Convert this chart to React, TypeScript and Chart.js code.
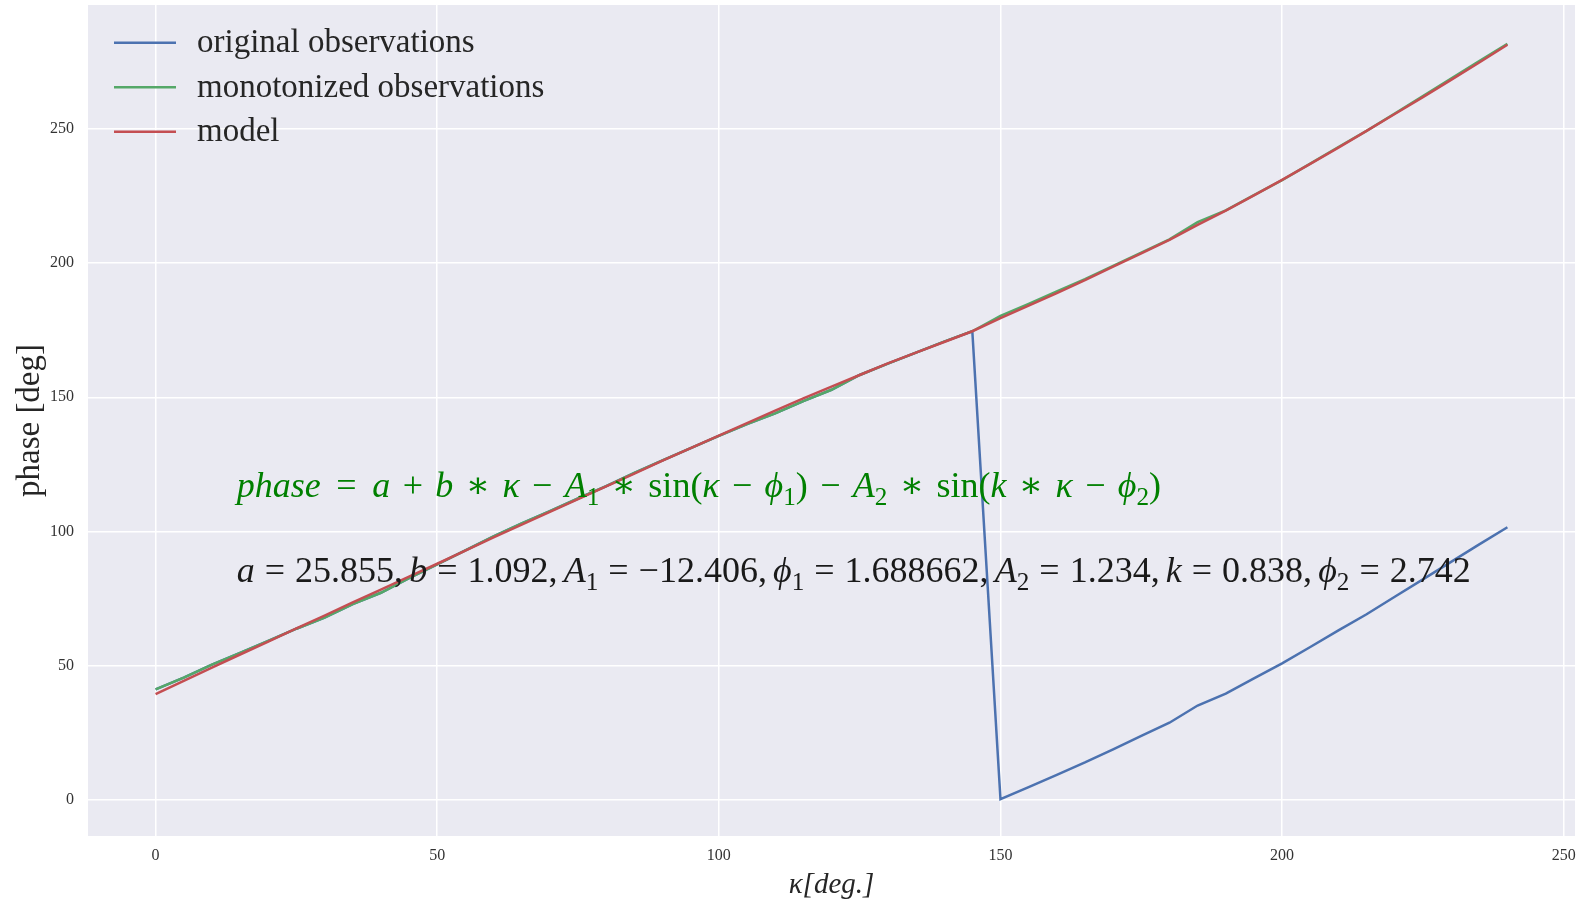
import React, { useEffect, useRef } from "react";
import { Chart, registerables } from "chart.js";

Chart.register(...registerables);

// Rotation angle κ in degrees, sampled every 5°
const KAPPA = [
  0, 5, 10, 15, 20, 25, 30, 35, 40, 45, 50, 55, 60, 65, 70, 75, 80, 85, 90, 95,
  100, 105, 110, 115, 120, 125, 130, 135, 140, 145, 150, 155, 160, 165, 170, 175,
  180, 185, 190, 195, 200, 205, 210, 215, 220, 225, 230, 235, 240,
];

// Measured phase, wrapped into [0, 180)
const ORIGINAL = [
  41.2, 45.6, 50.4, 54.8, 59.3, 63.8, 67.9, 73.0, 77.2, 82.6, 87.8, 93.0, 98.2,
  103.0, 107.6, 112.3, 116.9, 121.8, 126.5, 131.1, 135.6, 140.0, 144.0, 148.6,
  152.8, 158.3, 162.5, 166.6, 170.7, 174.6, 0.3, 4.8, 9.4, 14.0, 18.9, 23.9,
  28.8, 35.2, 39.6, 45.3, 50.9, 57.0, 63.2, 69.2, 75.7, 82.2, 88.7, 95.2, 101.6,
];

// Same observations after unwrapping the jump at 150°
const MONOTONIZED = [
  41.2, 45.6, 50.4, 54.8, 59.3, 63.8, 67.9, 73.0, 77.2, 82.6, 87.8, 93.0, 98.2,
  103.0, 107.6, 112.3, 116.9, 121.8, 126.5, 131.1, 135.6, 140.0, 144.0, 148.6,
  152.8, 158.3, 162.5, 166.6, 170.7, 174.6, 180.3, 184.8, 189.4, 194.0, 198.9,
  203.9, 208.8, 215.2, 219.6, 225.3, 230.9, 237.0, 243.2, 249.2, 255.7, 262.2,
  268.7, 275.2, 281.6,
];

// Fitted model curve
const MODEL = [
  39.4, 44.4, 49.3, 54.2, 59.0, 63.9, 68.7, 73.6, 78.4, 83.2, 88.0, 92.9, 97.8,
  102.6, 107.3, 112.1, 116.8, 121.6, 126.4, 131.1, 135.7, 140.4, 145.0, 149.6,
  154.0, 158.3, 162.6, 166.6, 170.6, 174.6, 179.5, 184.1, 188.8, 193.6, 198.7,
  203.6, 208.6, 214.2, 219.5, 225.2, 231.0, 236.9, 243.0, 249.2, 255.5, 261.8,
  268.2, 274.7, 281.3,
];

const SERIES_LABELS = ["original observations", "monotonized observations", "model"];
const SERIES_COLORS = ["#4C72B0", "#55A868", "#C44E52"];

const X_TICKS = [0, 50, 100, 150, 200, 250];
const Y_TICKS = [0, 50, 100, 150, 200, 250];

// Fit parameters shown under the formula
const PARAM_SYMBOLS = [
  ["a", ""],
  ["b", ""],
  ["A", "1"],
  ["ϕ", "1"],
  ["A", "2"],
  ["k", ""],
  ["ϕ", "2"],
];
const PARAM_VALUES = ["25.855", "1.092", "−12.406", "1.688662", "1.234", "0.838", "2.742"];

const SERIF = '"Liberation Serif", "DejaVu Serif", serif';
const MATH_SIZE = 36;

type Tok = { t: string; it?: boolean; sub?: boolean; l?: number; r?: number };

const v = (t: string): Tok => ({ t, it: true });
const u = (t: string): Tok => ({ t });
const s = (t: string): Tok => ({ t, sub: true });
const bin = (t: string): Tok => ({ t, l: 0.22, r: 0.22 });
const rel = (t: string): Tok => ({ t, l: 0.28, r: 0.28 });

const FORMULA: Tok[] = [
  v("phase"), rel("="), v("a"), bin("+"), v("b"), bin("∗"), v("κ"), bin("−"),
  v("A"), s("1"), bin("∗"), u("sin"), u("("), v("κ"), bin("−"), v("ϕ"), s("1"), u(")"),
  bin("−"), v("A"), s("2"), bin("∗"), u("sin"), u("("), v("k"), bin("∗"), v("κ"),
  bin("−"), v("ϕ"), s("2"), u(")"),
];

function paramTokens(): Tok[] {
  const out: Tok[] = [];
  PARAM_SYMBOLS.forEach(([sym, sub], i) => {
    out.push(v(sym));
    if (sub) out.push(s(sub));
    out.push(rel("="));
    out.push(u(PARAM_VALUES[i]));
    if (i < PARAM_SYMBOLS.length - 1) out.push({ t: ",", r: 0.17 });
  });
  return out;
}

function tokFont(tk: Tok, size: number) {
  const px = tk.sub ? size * 0.7 : size;
  return `${tk.it ? "italic " : ""}${px}px ${SERIF}`;
}

// Lays out a run of math tokens from x to x + width, stretching operator spacing
function drawMath(
  ctx: CanvasRenderingContext2D,
  toks: Tok[],
  x: number,
  y: number,
  width: number,
  size: number,
  color: string
) {
  const widths = toks.map((tk) => {
    ctx.font = tokFont(tk, size);
    return ctx.measureText(tk.t).width;
  });
  const glyph = widths.reduce((a, b) => a + b, 0);
  const gapEm = toks.reduce((a, tk) => a + (tk.l || 0) + (tk.r || 0), 0);
  const k = gapEm > 0 ? Math.max(0.3, (width - glyph) / (gapEm * size)) : 1;
  ctx.fillStyle = color;
  ctx.textAlign = "left";
  ctx.textBaseline = "alphabetic";
  let cx = x;
  toks.forEach((tk, i) => {
    cx += (tk.l || 0) * size * k;
    ctx.font = tokFont(tk, size);
    ctx.fillText(tk.t, cx, y + (tk.sub ? size * 0.22 : 0));
    cx += widths[i] + (tk.r || 0) * size * k;
  });
}

// Annotation anchors in data units (κ, phase)
const NOTE_KAPPA = 14.4;
const FORMULA_PHASE = 112.7;
const FORMULA_END_KAPPA = 178.5;
const PARAMS_PHASE = 81.1;
const PARAMS_END_KAPPA = 233.5;

const backgroundPlugin = {
  id: "plotBackground",
  beforeDraw(chart: any) {
    const { ctx, chartArea } = chart;
    ctx.save();
    ctx.fillStyle = "#EAEAF2";
    ctx.fillRect(chartArea.left, chartArea.top, chartArea.right - chartArea.left, chartArea.bottom - chartArea.top);
    ctx.restore();
  },
};

const overlayPlugin = {
  id: "overlay",
  afterDatasetsDraw(chart: any) {
    const { ctx, chartArea, scales } = chart;
    ctx.save();

    // legend, upper left
    chart.data.datasets.forEach((ds: any, i: number) => {
      const y = chartArea.top + 37.7 + i * 44.5;
      ctx.strokeStyle = ds.borderColor;
      ctx.lineWidth = ds.borderWidth;
      ctx.beginPath();
      ctx.moveTo(chartArea.left + 26, y);
      ctx.lineTo(chartArea.left + 88, y);
      ctx.stroke();
      ctx.fillStyle = "#262626";
      ctx.font = `33px ${SERIF}`;
      ctx.textAlign = "left";
      ctx.textBaseline = "alphabetic";
      ctx.fillText(ds.label, chartArea.left + 109, y + 9.5);
    });

    // model formula and fitted parameters
    const x0 = scales.x.getPixelForValue(NOTE_KAPPA);
    drawMath(
      ctx,
      FORMULA,
      x0,
      scales.y.getPixelForValue(FORMULA_PHASE),
      scales.x.getPixelForValue(FORMULA_END_KAPPA) - x0,
      MATH_SIZE,
      "#008000"
    );
    drawMath(
      ctx,
      paramTokens(),
      x0,
      scales.y.getPixelForValue(PARAMS_PHASE),
      scales.x.getPixelForValue(PARAMS_END_KAPPA) - x0,
      MATH_SIZE,
      "#1a1a1a"
    );
    ctx.restore();
  },
};

export default function App() {
  const canvasRef = useRef<HTMLCanvasElement | null>(null);

  useEffect(() => {
    if (!canvasRef.current) return;
    const series = [ORIGINAL, MONOTONIZED, MODEL];
    const chart = new Chart(canvasRef.current, {
      type: "line",
      data: {
        datasets: series.map((vals, i) => ({
          label: SERIES_LABELS[i],
          data: KAPPA.map((k, j) => ({ x: k, y: vals[j] })),
          borderColor: SERIES_COLORS[i],
          backgroundColor: SERIES_COLORS[i],
          borderWidth: 2.5,
          pointRadius: 0,
          tension: 0,
          fill: false,
          order: 2 - i,
        })),
      },
      options: {
        responsive: false,
        animation: false,
        events: [],
        layout: { padding: { left: 0, right: 10, top: 5, bottom: 0 } },
        plugins: {
          legend: { display: false },
          tooltip: { enabled: false },
          title: { display: false },
        },
        scales: {
          x: {
            type: "linear",
            min: -12,
            max: 252,
            afterBuildTicks: (sc: any) => {
              sc.ticks = X_TICKS.map((value) => ({ value }));
            },
            afterFit: (sc: any) => {
              sc.height = 67;
              sc.paddingLeft = 0;
              sc.paddingRight = 0;
            },
            grid: { color: "#ffffff", lineWidth: 1.5, drawTicks: false },
            border: { display: false },
            ticks: {
              padding: 10,
              color: "#333333",
              autoSkip: false,
              maxRotation: 0,
              font: { family: SERIF, size: 16 },
            },
            title: {
              display: true,
              text: "κ[deg.]",
              color: "#262626",
              font: { family: SERIF, size: 29, style: "italic" },
              padding: { top: 0, bottom: 0 },
            },
          },
          y: {
            type: "linear",
            min: -13.4,
            max: 296.1,
            afterBuildTicks: (sc: any) => {
              sc.ticks = Y_TICKS.map((value) => ({ value }));
            },
            afterFit: (sc: any) => {
              sc.width = 88;
              sc.paddingTop = 0;
              sc.paddingBottom = 0;
            },
            grid: { color: "#ffffff", lineWidth: 1.5, drawTicks: false },
            border: { display: false },
            ticks: {
              padding: 14,
              color: "#333333",
              autoSkip: false,
              font: { family: SERIF, size: 16 },
            },
            title: {
              display: true,
              text: "phase [deg]",
              color: "#262626",
              font: { family: SERIF, size: 33 },
              padding: { top: 11, bottom: 0 },
            },
          },
        },
      },
      plugins: [backgroundPlugin, overlayPlugin],
    });
    return () => chart.destroy();
  }, []);

  return (
    <div style={{ position: "absolute", left: 0, top: 0, width: 1585, height: 903, background: "#ffffff" }}>
      <canvas ref={canvasRef} width={1585} height={903} />
    </div>
  );
}
